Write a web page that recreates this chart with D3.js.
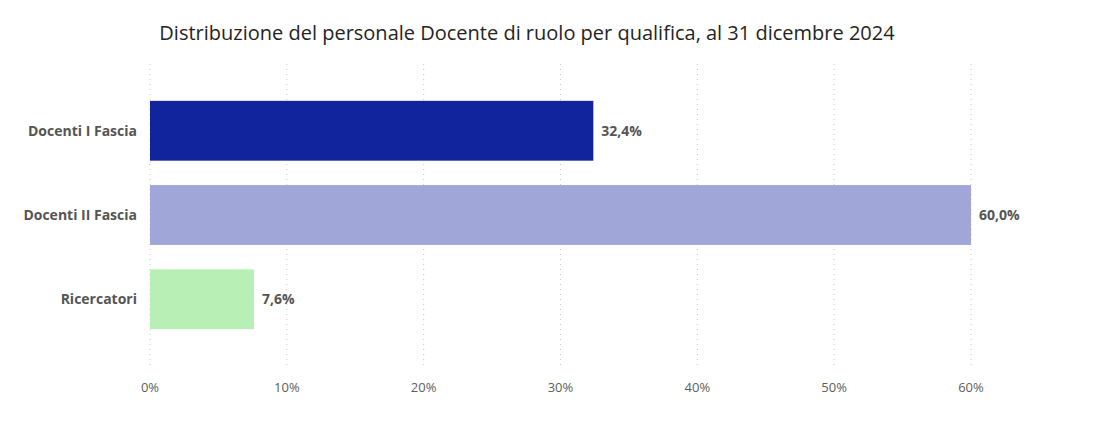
<!DOCTYPE html>
<html><head><meta charset="utf-8">
<script src="https://cdn.jsdelivr.net/npm/d3@7"></script>
<style>body{margin:0;background:#fff}</style>
</head><body>
<svg id="c" width="1094" height="426"></svg>
<script>
var categories = ["Docenti I Fascia", "Docenti II Fascia", "Ricercatori"];
var values = [32.4, 60.0, 7.6];
var colors = ["#12239E", "#A0A6D8", "#B7EFB4"];
var ticks = [0, 10, 20, 30, 40, 50, 60];

var svg = d3.select("#c");
var font = "'Open Sans', sans-serif";

var x = d3.scaleLinear().domain([0, 60]).range([150, 971]);
var y = d3.scaleBand().domain(categories).range([84, 346]).paddingInner(0.29).paddingOuter(0.2);

svg.append("text").attr("x", 527).attr("y", 40).attr("text-anchor", "middle")
    .attr("font-family", font).attr("font-size", 20).attr("fill", "#252423")
    .text("Distribuzione del personale Docente di ruolo per qualifica, al 31 dicembre 2024");

svg.append("g").selectAll("line").data(ticks).join("line")
    .attr("x1", function (d) { return x(d); }).attr("x2", function (d) { return x(d); })
    .attr("y1", 64).attr("y2", 368)
    .attr("stroke", "#c8c8c8").attr("stroke-dasharray", "1,4");

svg.append("g").selectAll("text").data(ticks).join("text")
    .attr("x", function (d) { return x(d); }).attr("y", 392)
    .attr("text-anchor", "middle").attr("font-family", font).attr("font-size", 13)
    .attr("fill", "#605E5C").text(function (d) { return d + "%"; });

svg.append("g").selectAll("rect").data(values).join("rect")
    .attr("x", x(0)).attr("y", function (d, i) { return y(categories[i]); })
    .attr("width", function (d) { return x(d) - x(0); })
    .attr("height", y.bandwidth())
    .attr("fill", function (d, i) { return colors[i]; });

svg.append("g").selectAll("text").data(values).join("text")
    .attr("x", function (d) { return x(d) + 8; })
    .attr("y", function (d, i) { return y(categories[i]) + y.bandwidth() / 2 + 5; })
    .attr("font-family", font).attr("font-size", 14).attr("font-weight", "bold")
    .attr("fill", "#555").text(function (d) { return d.toFixed(1).replace(".", ",") + "%"; });

svg.append("g").selectAll("text").data(categories).join("text")
    .attr("x", 137).attr("y", function (d) { return y(d) + y.bandwidth() / 2 + 5; })
    .attr("text-anchor", "end").attr("font-family", font).attr("font-size", 14)
    .attr("font-weight", "bold").attr("fill", "#555").text(function (d) { return d; });
</script>
</body></html>
